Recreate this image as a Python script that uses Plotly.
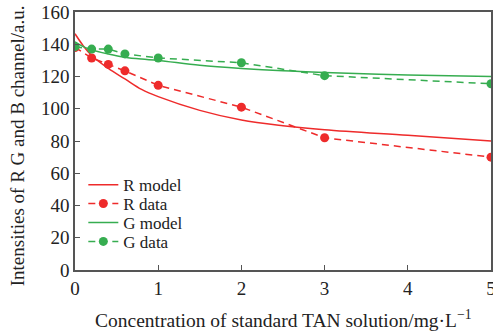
import plotly.graph_objects as go

# Measured data points
conc_data = [0, 0.2, 0.4, 0.6, 1, 2, 3, 5]
r_data = [138, 131.5, 127.5, 123.5, 114.5, 101, 82, 70]
g_data = [138.5, 137, 137, 134, 131.5, 128.5, 120.5, 115.5]

# Model curves
conc_model = [0, 0.1, 0.2, 0.4, 0.6, 0.8, 1, 1.5, 2, 2.5, 3, 4, 5]
r_model = [146.5, 139, 133, 125, 118.5, 112, 107.5, 99, 93, 89.5, 87, 83.5, 80]
g_model = [141.5, 138.5, 136.5, 134, 132, 130.8, 130, 127, 125, 123.5, 122.5, 121, 120]

red = "#ee2b2b"
green = "#36ad50"
font = "Liberation Serif, Times New Roman, serif"
txt = "#222222"

fig = go.Figure()
fig.add_trace(go.Scatter(x=conc_model, y=r_model, mode="lines", name="R model", legend="legend",
                         line=dict(color=red, width=1.5, shape="spline")))
fig.add_trace(go.Scatter(x=conc_data, y=r_data, mode="lines+markers", name="R data", legend="legend2",
                         line=dict(color=red, width=1.5, dash="7px,5px"),
                         marker=dict(size=9, color=red)))
fig.add_trace(go.Scatter(x=conc_model, y=g_model, mode="lines", name="G model", legend="legend3",
                         line=dict(color=green, width=1.5, shape="spline")))
fig.add_trace(go.Scatter(x=conc_data, y=g_data, mode="lines+markers", name="G data", legend="legend4",
                         line=dict(color=green, width=1.5, dash="7px,5px"),
                         marker=dict(size=9, color=green)))

axis_common = dict(showline=True, linecolor="#555555", linewidth=1.5, mirror=True,
                   ticks="inside", ticklen=5, tickcolor="#555555", tickwidth=1.2,
                   showgrid=False, zeroline=False, ticklabeloverflow="allow",
                   automargin=False,
                   tickfont=dict(family=font, size=19, color=txt))

fig.update_xaxes(range=[0, 5], dtick=1, **axis_common)
fig.update_yaxes(range=[0, 160], dtick=20, **axis_common)

fig.add_annotation(text="Intensities of R G and B channel/a.u.", textangle=-90,
                   xref="paper", yref="paper", x=-0.139, y=-0.072,
                   xanchor="center", yanchor="bottom", showarrow=False,
                   font=dict(family=font, size=19, color=txt))
fig.add_annotation(text="Concentration of standard TAN solution/mg·L<sup>−1</sup>",
                   xref="paper", yref="paper", x=0.5, y=-0.19,
                   xanchor="center", yanchor="middle", showarrow=False,
                   font=dict(family=font, size=19.5, color=txt))

leg = dict(x=0.02, xanchor="left", yanchor="middle", bgcolor="rgba(0,0,0,0)",
           font=dict(family=font, size=17, color=txt), itemwidth=30)

fig.update_layout(
    width=493, height=334,
    margin=dict(l=75, r=2, t=12, b=64, autoexpand=False),
    plot_bgcolor="white", paper_bgcolor="white",
    showlegend=True,
    legend=dict(y=0.329, **leg),
    legend2=dict(y=0.256, **leg),
    legend3=dict(y=0.182, **leg),
    legend4=dict(y=0.109, **leg),
)

fig.write_html("out.html", config={"displayModeBar": False},
               post_script="document.body.style.margin='0';document.body.style.overflow='hidden';")
